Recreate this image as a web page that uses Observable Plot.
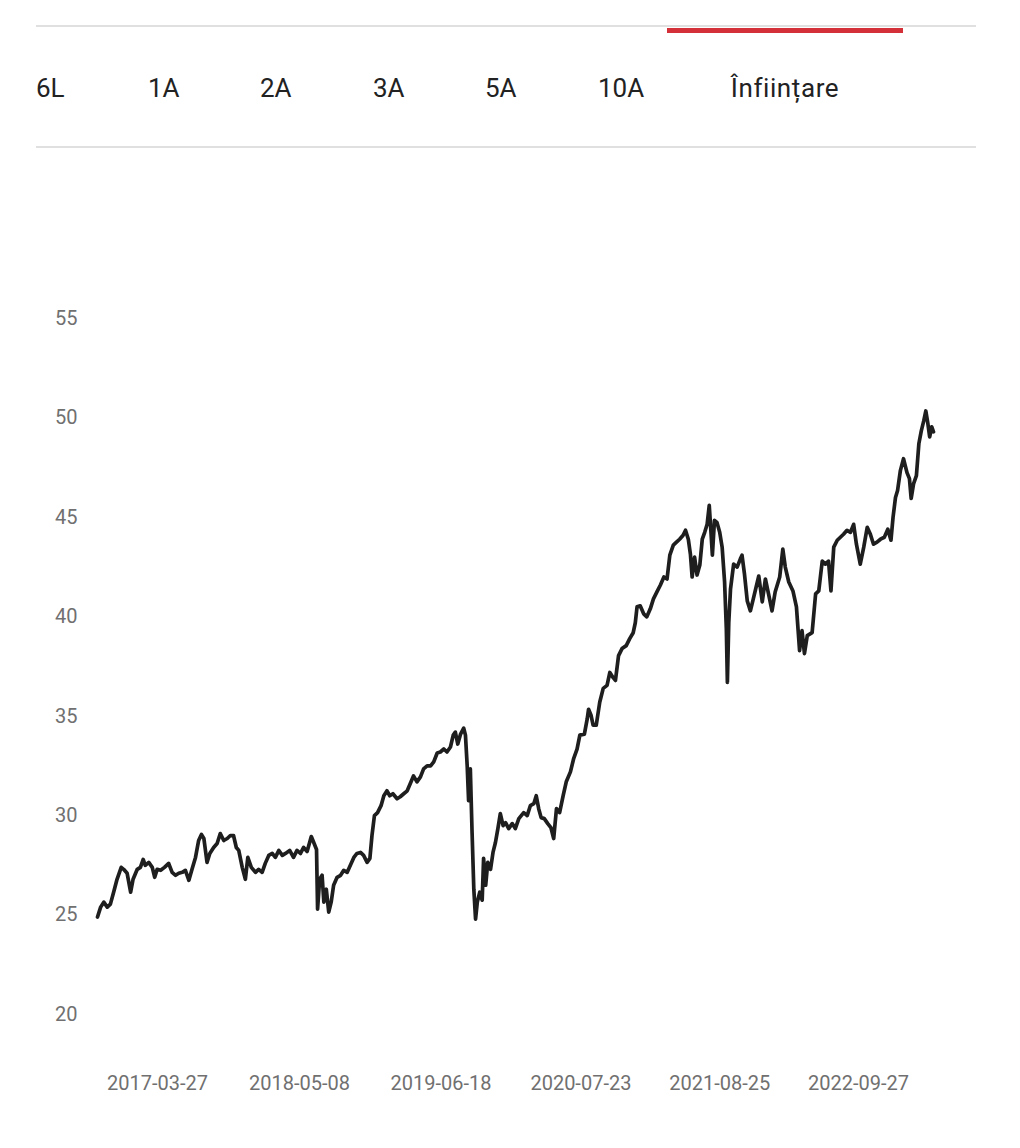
<!DOCTYPE html>
<html>
<head>
<meta charset="utf-8">
<script src="https://cdn.jsdelivr.net/npm/d3@7"></script>
<script src="https://cdn.jsdelivr.net/npm/@observablehq/plot@0.6"></script>
<style>
  html, body { margin: 0; padding: 0; background: #fff; }
  #tabs { position: relative; width: 1020px; height: 160px; font-family: Roboto, "Noto Sans", sans-serif; font-size: 26px; color: #222; }
  #tabs .rule { position: absolute; left: 36px; width: 940px; height: 2px; background: #e0e0e0; }
  #tabs .tab { position: absolute; top: 75px; line-height: 26px; white-space: nowrap; }
  #tabs .tab.current { width: 236px; text-align: center; letter-spacing: 0.6px; }
  #tabs .active { position: absolute; left: 667px; top: 28px; width: 236px; height: 5px; background: #d4303a; }
  #chart svg { display: block; }
</style>
</head>
<body>
<div id="tabs">
  <div class="rule" style="top:25px"></div>
  <div class="active"></div>
  <div class="rule" style="top:146px"></div>
</div>
<div id="chart"></div>
<script>
// Tab labels (period selector)
const tabLabels = ["6L", "1A", "2A", "3A", "5A", "10A", "Înființare"];
const tabLeft = [36, 148, 260, 373, 485, 598, 667];

// Axis ticks
const yTicks = [20, 25, 30, 35, 40, 45, 50, 55];
const xTickLabels = ["2017-03-27", "2018-05-08", "2019-06-18", "2020-07-23", "2021-08-25", "2022-09-27"];

// Series: dates and values
const dates = [
"2016-10-06","2016-10-15","2016-10-24","2016-11-03","2016-11-12","2016-11-22","2016-12-01","2016-12-13","2016-12-20","2016-12-30",
"2017-01-09","2017-01-16","2017-01-28","2017-02-06","2017-02-14","2017-02-20","2017-03-02","2017-03-12","2017-03-19","2017-03-26",
"2017-04-05","2017-04-16","2017-04-28","2017-05-08","2017-05-18","2017-05-27","2017-06-06","2017-06-15","2017-06-25","2017-07-04",
"2017-07-14","2017-07-23","2017-07-31","2017-08-07","2017-08-16","2017-08-24","2017-09-04","2017-09-14","2017-09-23","2017-10-03",
"2017-10-13","2017-10-22","2017-10-31","2017-11-08","2017-11-15","2017-11-25","2017-12-04","2017-12-11","2017-12-21","2018-01-02",
"2018-01-11","2018-01-21","2018-01-30","2018-02-09","2018-02-19","2018-02-28","2018-03-10","2018-03-20","2018-03-29","2018-04-10",
"2018-04-21","2018-05-01","2018-05-11","2018-05-20","2018-05-30","2018-06-11","2018-06-18","2018-06-26","2018-06-29","2018-07-05",
"2018-07-12","2018-07-17","2018-07-24","2018-07-31","2018-08-07","2018-08-14","2018-08-24","2018-09-03","2018-09-12","2018-09-22",
"2018-10-01","2018-10-11","2018-10-20","2018-10-30","2018-11-08","2018-11-18","2018-11-26","2018-12-02","2018-12-09","2018-12-18",
"2018-12-28","2019-01-05","2019-01-14","2019-01-22","2019-01-31","2019-02-12","2019-02-21","2019-03-03","2019-03-13","2019-03-24",
"2019-03-31","2019-04-10","2019-04-20","2019-04-29","2019-05-09","2019-05-19","2019-05-28","2019-06-07","2019-06-16","2019-06-26",
"2019-07-05","2019-07-15","2019-07-23","2019-07-29","2019-08-05","2019-08-13","2019-08-22","2019-08-27","2019-09-01","2019-09-05",
"2019-09-10","2019-09-15","2019-09-20","2019-09-25","2019-09-30","2019-10-07","2019-10-14","2019-10-18","2019-10-24","2019-10-30",
"2019-11-07","2019-11-14","2019-11-21","2019-11-28","2019-12-05","2019-12-13","2019-12-20","2019-12-29","2020-01-08","2020-01-17",
"2020-01-27","2020-02-10","2020-02-20","2020-02-29","2020-03-10","2020-03-17","2020-03-24","2020-03-31","2020-04-09","2020-04-19",
"2020-04-28","2020-05-06","2020-05-14","2020-05-23","2020-06-02","2020-06-11","2020-06-23","2020-07-02","2020-07-12","2020-07-20",
"2020-08-02","2020-08-10","2020-08-14","2020-08-21","2020-08-27","2020-09-05","2020-09-15","2020-09-25","2020-10-06","2020-10-14",
"2020-10-23","2020-10-30","2020-11-08","2020-11-18","2020-11-30","2020-12-10","2020-12-20","2020-12-26","2020-12-31","2021-01-09",
"2021-01-19","2021-01-28","2021-02-07","2021-02-16","2021-02-26","2021-03-08","2021-03-18","2021-03-27","2021-04-04","2021-04-14",
"2021-04-23","2021-05-02","2021-05-12","2021-05-19","2021-05-27","2021-06-02","2021-06-07","2021-06-14","2021-06-21","2021-06-29",
"2021-07-06","2021-07-13","2021-07-20","2021-07-26","2021-07-31","2021-08-04","2021-08-10","2021-08-17","2021-08-25","2021-09-01",
"2021-09-08","2021-09-13","2021-09-16","2021-09-20","2021-09-25","2021-10-04","2021-10-14","2021-10-23","2021-10-28","2021-11-04",
"2021-11-12","2021-11-21","2021-11-30","2021-12-15","2021-12-25","2022-01-03","2022-01-12","2022-01-22","2022-01-31","2022-02-13",
"2022-02-22","2022-03-01","2022-03-11","2022-03-23","2022-04-02","2022-04-11","2022-04-18","2022-04-25","2022-05-03","2022-05-17",
"2022-05-27","2022-06-05","2022-06-15","2022-06-24","2022-07-03","2022-07-10","2022-07-18","2022-07-28","2022-08-06","2022-08-15",
"2022-08-25","2022-09-04","2022-09-13","2022-09-21","2022-10-02","2022-10-12","2022-10-22","2022-10-31","2022-11-09","2022-11-19",
"2022-11-29","2022-12-10","2022-12-20","2022-12-29","2023-01-04","2023-01-11","2023-01-17","2023-01-25","2023-02-03","2023-02-13",
"2023-02-20","2023-02-25","2023-03-04","2023-03-12","2023-03-19","2023-03-26","2023-04-02","2023-04-08","2023-04-14","2023-04-19",
"2023-04-25","2023-04-30"];

const values = [
24.9, 25.4, 25.65, 25.4, 25.55, 26.2, 26.8, 27.4, 27.3, 27.1,
26.15, 26.8, 27.3, 27.4, 27.8, 27.5, 27.65, 27.4, 26.9, 27.3,
27.25, 27.4, 27.6, 27.15, 27.0, 27.1, 27.15, 27.25, 26.75, 27.3,
27.9, 28.75, 29.05, 28.85, 27.65, 28.1, 28.4, 28.6, 29.1, 28.75,
28.85, 29.0, 29.0, 28.4, 28.25, 27.4, 26.8, 27.9, 27.4, 27.15,
27.3, 27.15, 27.6, 28.0, 28.1, 27.9, 28.25, 28.0, 28.1, 28.25,
27.9, 28.25, 28.1, 28.4, 28.2, 28.95, 28.65, 28.3, 25.3, 26.8,
27.0, 25.65, 26.3, 25.15, 25.65, 26.5, 26.9, 27.0, 27.25, 27.15,
27.5, 27.9, 28.1, 28.15, 28.0, 27.65, 27.85, 29.0, 30.0, 30.15,
30.5, 31.0, 31.25, 31.0, 31.1, 30.85, 30.95, 31.1, 31.25, 31.7,
32.0, 31.7, 31.95, 32.35, 32.5, 32.5, 32.7, 33.15, 33.2, 33.35,
33.2, 33.45, 34.05, 34.2, 33.6, 34.1, 34.4, 34.05, 32.5, 30.75,
32.35, 29.15, 26.3, 24.8, 25.65, 26.15, 25.75, 27.85, 26.5, 27.65,
27.3, 28.15, 28.65, 29.35, 30.1, 29.5, 29.65, 29.35, 29.6, 29.35,
29.85, 30.15, 30.0, 30.5, 30.6, 31.0, 30.35, 29.9, 29.85, 29.6,
29.4, 28.85, 30.35, 30.15, 31.0, 31.7, 32.2, 32.85, 33.35, 34.05,
34.1, 34.85, 35.35, 35.05, 34.55, 34.55, 35.7, 36.4, 36.55, 37.2,
36.95, 36.8, 38.05, 38.4, 38.55, 38.9, 39.2, 39.7, 40.5, 40.55,
40.15, 40.0, 40.4, 40.9, 41.25, 41.6, 42.0, 41.9, 43.1, 43.6,
43.75, 43.9, 44.1, 44.35, 43.9, 43.15, 42.0, 43.0, 42.1, 42.6,
43.9, 44.25, 44.65, 45.6, 44.25, 43.1, 44.85, 44.75, 44.25, 43.5,
41.75, 39.4, 36.7, 39.7, 41.4, 42.65, 42.5, 42.9, 43.1, 42.15,
40.8, 40.3, 40.95, 42.05, 40.75, 41.9, 41.15, 40.3, 41.25, 42.0,
43.4, 42.5, 41.75, 41.3, 40.5, 38.3, 39.3, 38.15, 39.05, 39.2,
41.15, 41.3, 42.8, 42.65, 42.8, 41.3, 43.5, 43.85, 44.0, 44.15,
44.35, 44.25, 44.65, 43.65, 42.65, 43.5, 44.5, 44.15, 43.65, 43.75,
43.9, 44.0, 44.4, 43.85, 45.0, 46.0, 46.35, 47.35, 47.95, 47.25,
46.95, 45.95, 46.7, 47.1, 48.7, 49.35, 49.85, 50.35, 49.7, 49.05,
49.55, 49.3];

// Tabs
const tabsEl = document.getElementById("tabs");
tabLabels.forEach((t, i) => {
  const s = document.createElement("div");
  s.className = "tab" + (i === tabLabels.length - 1 ? " current" : "");
  s.style.left = tabLeft[i] + "px";
  s.textContent = t;
  tabsEl.appendChild(s);
});

const parse = d3.utcParse("%Y-%m-%d");
const data = dates.map((d, i) => ({date: parse(d), value: values[i]}));
const xTicks = xTickLabels.map(parse);

const chart = Plot.plot({
  width: 1020,
  height: 988,
  marginLeft: 97,
  marginRight: 87,
  marginTop: 158,
  marginBottom: 134,
  x: {type: "utc", domain: [data[0].date, data[data.length - 1].date]},
  y: {domain: [20, 55]},
  style: {fontFamily: "Roboto, 'Noto Sans', sans-serif", fontSize: "20px", color: "#707070", background: "white", overflow: "visible"},
  marks: [
    Plot.axisY({ticks: yTicks, tickSize: 0, tickPadding: 20, label: null}),
    Plot.axisX({ticks: xTicks, tickSize: 0, tickPadding: 61, tickFormat: d3.utcFormat("%Y-%m-%d"), label: null}),
    Plot.lineY(data, {x: "date", y: "value", stroke: "#1e1e1e", strokeWidth: 3.7, strokeLinejoin: "round", strokeLinecap: "round"})
  ]
});
document.getElementById("chart").appendChild(chart);
</script>
</body>
</html>
